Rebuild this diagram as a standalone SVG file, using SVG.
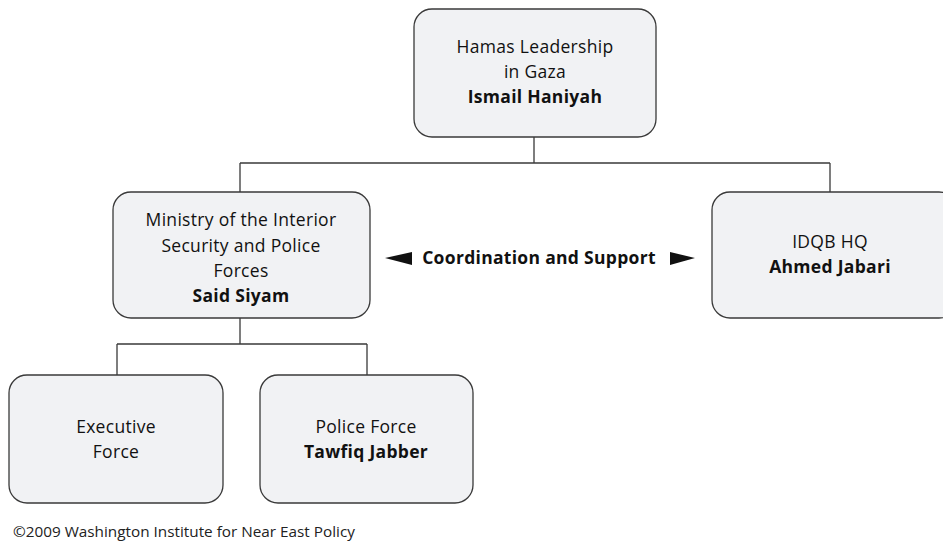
<svg xmlns="http://www.w3.org/2000/svg" width="943" height="541" viewBox="0 0 943 541">
<style>
.box{fill:#f1f2f4;stroke:#3a3a3a;stroke-width:1.3}
.ln{fill:none;stroke:#3a3a3a;stroke-width:1.3}
text{font-family:"Open Sans","Liberation Sans",sans-serif;font-size:17.5px;letter-spacing:0.3px;fill:#111;text-anchor:middle}
.b{font-weight:bold}
</style>
<rect width="943" height="541" fill="#fff"/>
<g id="connectors">
<path class="ln" d="M534 137V163M240 163H830M240 163V192M830 163V192M240 318V344M117 344H367M117 344V375M367 344V375"/>
<polygon points="385,258 412,252 412,265" fill="#111"/>
<polygon points="695,258 670,252 670,265" fill="#111"/>
<text x="539" y="264" class="b">Coordination and Support</text>
</g>
<g id="hamas">
<rect class="box" x="414" y="9" width="242" height="128" rx="18"/>
<text x="535" y="53">Hamas Leadership</text>
<text x="535" y="78">in Gaza</text>
<text x="535" y="103" class="b">Ismail Haniyah</text>
</g>
<g id="ministry">
<rect class="box" x="113" y="192" width="257" height="126" rx="18"/>
<text x="241" y="226">Ministry of the Interior</text>
<text x="241" y="252">Security and Police</text>
<text x="241" y="277">Forces</text>
<text x="241" y="302" class="b">Said Siyam</text>
</g>
<g id="idqb">
<rect class="box" x="712" y="192" width="245" height="126" rx="18"/>
<text x="830" y="248">IDQB HQ</text>
<text x="830" y="273" class="b">Ahmed Jabari</text>
</g>
<g id="executive">
<rect class="box" x="9" y="375" width="214" height="128" rx="18"/>
<text x="116" y="433">Executive</text>
<text x="116" y="458">Force</text>
</g>
<g id="police">
<rect class="box" x="260" y="375" width="213" height="128" rx="18"/>
<text x="366" y="433">Police Force</text>
<text x="366" y="458" class="b">Tawfiq Jabber</text>
</g>
<text x="13" y="537" style="font-size:15.3px;letter-spacing:0;text-anchor:start;fill:#222">©2009  Washington Institute for Near East Policy</text>
</svg>
